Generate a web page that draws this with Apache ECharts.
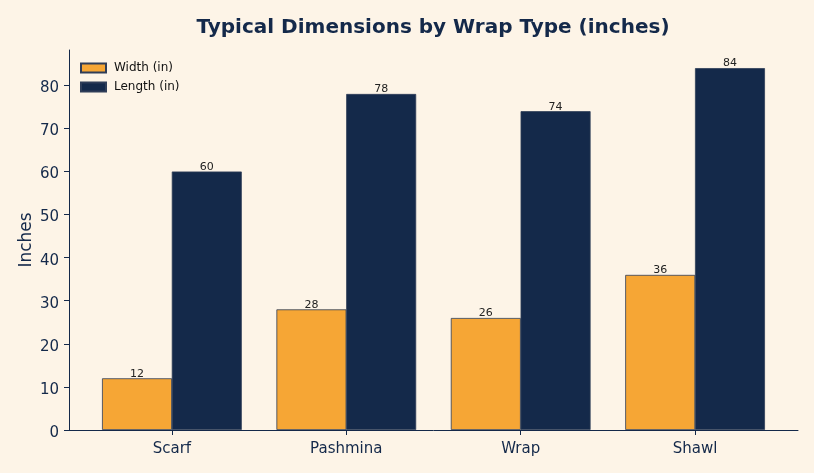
<!DOCTYPE html>
<html>
<head>
<meta charset="utf-8">
<script src="https://cdn.jsdelivr.net/npm/echarts@6/dist/echarts.min.js"></script>
<style>
  html, body { margin: 0; padding: 0; background: #fdf4e7; }
  #chart { width: 814px; height: 473px; }
</style>
</head>
<body>
<div id="chart"></div>
<script>
const categories = ["Scarf", "Pashmina", "Wrap", "Shawl"];
const widthValues = [12, 28, 26, 36];
const lengthValues = [60, 78, 74, 84];

const navy = "#14294a";
const orange = "#f6a635";

const chart = echarts.init(document.getElementById("chart"));

// bars sit either side of each category centre
const widthData = widthValues.map((v, i) => [i - 0.2, v]);
const lengthData = lengthValues.map((v, i) => [i + 0.2, v]);

const barLabel = {
  show: true,
  position: "top",
  distance: -1,
  formatter: (p) => p.value[1],
  fontFamily: "DejaVu Sans",
  fontSize: 11,
  color: "#222"
};

const option = {
  backgroundColor: "#fdf4e7",
  animation: false,
  title: {
    text: "Typical Dimensions by Wrap Type (inches)",
    left: 428,
    textAlign: "center",
    top: 13,
    textStyle: { fontFamily: "DejaVu Sans", fontSize: 20, fontWeight: "bold", color: navy }
  },
  legend: {
    orient: "vertical",
    left: 75,
    top: 57,
    itemWidth: 25,
    itemHeight: 9,
    itemGap: 7,
    icon: "rect",
    textStyle: { fontFamily: "DejaVu Sans", fontSize: 12, color: "#111", padding: [0, 0, 0, 3] },
    data: ["Width (in)", "Length (in)"]
  },
  grid: { left: 69, right: 16, top: 50, bottom: 43 },
  xAxis: {
    type: "value",
    min: -0.59,
    max: 3.59,
    splitLine: { show: false },
    axisLine: { onZero: false, lineStyle: { color: navy } },
    axisTick: { customValues: [0, 1, 2, 3], length: 5, lineStyle: { color: navy } },
    axisLabel: {
      customValues: [0, 1, 2, 3],
      formatter: (v) => categories[Math.round(v)],
      fontFamily: "DejaVu Sans",
      fontSize: 15,
      color: navy,
      margin: 12
    }
  },
  yAxis: {
    type: "value",
    min: 0,
    max: 88.2,
    interval: 10,
    name: "Inches",
    nameLocation: "middle",
    nameGap: 34,
    nameMoveOverlap: false,
    nameTextStyle: { fontFamily: "DejaVu Sans", fontSize: 17, color: navy },
    splitLine: { show: false },
    axisLine: { show: true, onZero: false, lineStyle: { color: navy } },
    axisTick: { show: true, length: 5, lineStyle: { color: navy } },
    axisLabel: {
      fontFamily: "DejaVu Sans",
      fontSize: 15,
      color: navy,
      margin: 10,
      lineHeight: 22,
      verticalAlign: "top",
      padding: [-8, 0, 0, 0],
      showMaxLabel: false
    }
  },
  series: [
    {
      name: "Width (in)",
      type: "bar",
      data: widthData,
      barWidth: 70,
      barGap: "-100%",
      itemStyle: { color: orange, borderColor: "#2f3d58", borderWidth: 0.8 },
      label: barLabel
    },
    {
      name: "Length (in)",
      type: "bar",
      data: lengthData,
      barWidth: 70,
      barGap: "-100%",
      itemStyle: { color: navy, borderColor: "#2f3d58", borderWidth: 0.8 },
      label: barLabel
    }
  ]
};

chart.setOption(option);
</script>
</body>
</html>
